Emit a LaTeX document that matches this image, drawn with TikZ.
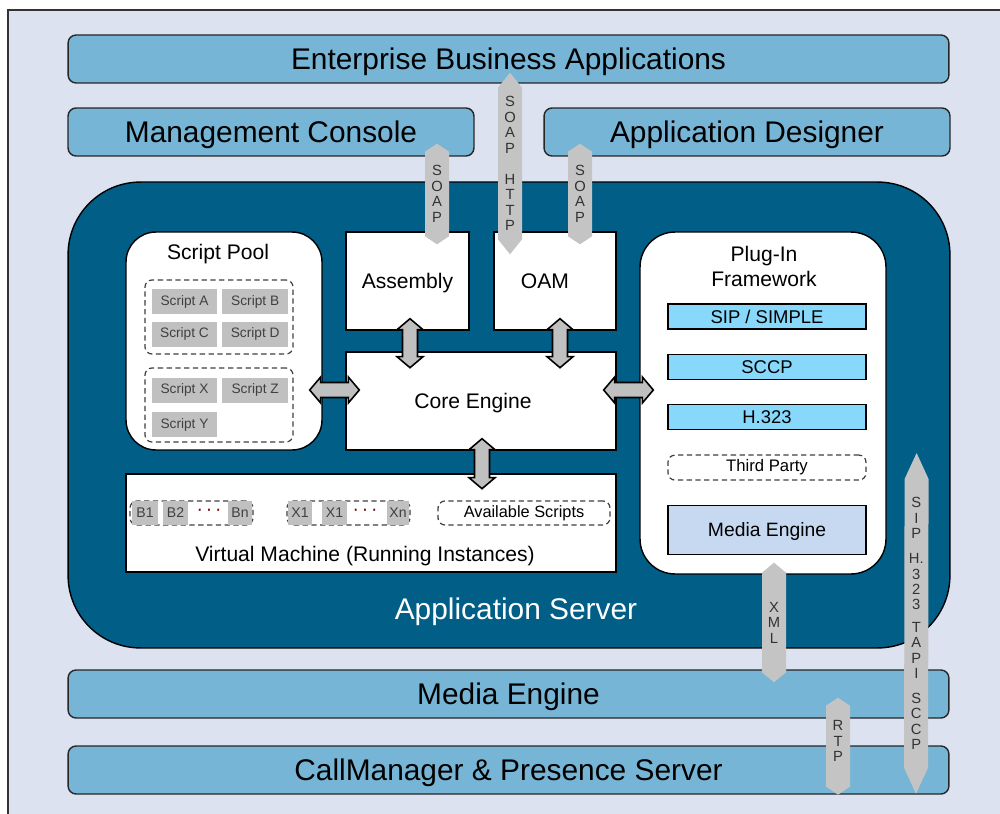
\documentclass[tikz,border=0pt]{standalone}
\usepackage{fontspec}
\setmainfont{Liberation Sans}
\usetikzlibrary{calc, positioning}

\definecolor{framebg}{RGB}{220,226,240}
\definecolor{bandblue}{RGB}{118,181,213}
\definecolor{serverblue}{RGB}{0,94,135}
\definecolor{plugcyan}{RGB}{135,216,250}
\definecolor{mediablue}{RGB}{198,217,241}
\definecolor{scriptgray}{RGB}{192,192,192}
\definecolor{linkgray}{RGB}{192,192,192}
\definecolor{protogray}{RGB}{196,196,196}

% #1 style, #2 from, #3 to, #4 head length, #5 head half width, #6 shaft half width
\newcommand{\fatarrow}[6]{%
	\path[#1] (#2)
		-- ($(#2)!#4!(#3)!#5!90:(#3)$) -- ($(#2)!#4!(#3)!#6!90:(#3)$)
		-- ($(#3)!#4!(#2)!#6!-90:(#2)$) -- ($(#3)!#4!(#2)!#5!-90:(#2)$)
		-- (#3)
		-- ($(#3)!#4!(#2)!#5!90:(#2)$) -- ($(#3)!#4!(#2)!#6!90:(#2)$)
		-- ($(#2)!#4!(#3)!#6!-90:(#3)$) -- ($(#2)!#4!(#3)!#5!-90:(#3)$)
		-- cycle;}
\newcommand{\vmdots}{\textperiodcentered\hspace{1.6pt}\textperiodcentered\hspace{1.6pt}\textperiodcentered}

\begin{document}
\begin{tikzpicture}[x=0.02cm, y=-0.02cm,
	band/.style={draw=black!85, line width=0.8pt, fill=bandblue, rounded corners=0.16cm, minimum height=0.96cm, inner sep=0pt, text height=12.2pt, text depth=0pt, font=\fontsize{17}{20}\selectfont},
	block/.style={draw=black, line width=0.8pt, fill=white, inner sep=0pt, text height=8.6pt, text depth=0pt, font=\fontsize{12}{14}\selectfont},
	pool/.style={block, rounded corners=0.6cm},
	plugrow/.style={draw=black, line width=0.8pt, fill=plugcyan, minimum width=3.96cm, minimum height=0.5cm, inner sep=0pt, text height=7.5pt, text depth=0pt, font=\fontsize{10.5}{12}\selectfont},
	dashbox/.style={draw=black!75, line width=0.7pt, dash pattern=on 3pt off 2pt, rounded corners=0.14cm, inner sep=0pt},
	scriptbox/.style={fill=scriptgray, minimum width=1.32cm, minimum height=0.5cm, inner sep=0pt, text=black!75, font=\fontsize{7.8}{9}\selectfont},
	instbox/.style={fill=scriptgray, minimum height=0.48cm, inner sep=0pt, text=black!75, font=\fontsize{8}{9}\selectfont},
	dots/.style={inner sep=0pt, text=red!45!black, font=\fontsize{11}{12}\selectfont},
	link/.style={fill=linkgray, draw=black, line width=0.9pt, line join=miter},
	proto/.style={fill=protogray},
	protolabel/.style={align=center, inner sep=0pt, text=black!80, font=\fontsize{8.4}{8.8}\selectfont}]
	\useasboundingbox (0,0) rectangle (1000,814);
	\fill[framebg] (8,10) rectangle (1000,814);
	\draw[line width=0.8pt, black!80] (1000,10) -- (8,10) -- (8,814);

	\node[band, minimum width=17.62cm] (enterprise) at (508.5,59) {Enterprise Business Applications};
	\node[band, minimum width=8.12cm] (mgmt_console) at (271,132) {Management Console};
	\node[band, minimum width=8.12cm] (app_designer) at (747,132) {Application Designer};

	\node[draw=black, line width=0.8pt, fill=serverblue, rounded corners=1.45cm, minimum width=17.64cm, minimum height=9.32cm] (app_server) at (509,415) {};
	\node[text=white, text height=12.2pt, text depth=0pt, inner sep=0pt, font=\fontsize{17}{20}\selectfont] (server_label) at (516,609) {Application Server};

	\node[pool, minimum width=3.92cm, minimum height=4.36cm] (script_pool) at (224,341) {};
	\node[font=\fontsize{12}{14}\selectfont] (pool_title) at (218,254.5) {Script Pool};
	\node[dashbox, minimum width=2.96cm, minimum height=1.48cm] (pool_group_a) at (219,317) {};
	\node[scriptbox] (script_a) at (184.5,301.5) {Script A};
	\node[scriptbox, right=0.08cm of script_a] (script_b) {Script B};
	\node[scriptbox, below=0.14cm of script_a] (script_c) {Script C};
	\node[scriptbox, right=0.08cm of script_c] (script_d) {Script D};
	\node[dashbox, minimum width=2.96cm, minimum height=1.48cm] (pool_group_b) at (219,405) {};
	\node[scriptbox] (script_x) at (184.5,390) {Script X};
	\node[scriptbox, right=0.08cm of script_x] (script_z) {Script Z};
	\node[scriptbox, below=0.18cm of script_x] (script_y) {Script Y};

	\node[block, minimum width=2.46cm, minimum height=1.96cm] (assembly) at (407.5,281) {Assembly};
	\node[block, minimum width=2.44cm, minimum height=1.96cm] (oam) at (555,281) {\hspace*{-0.4cm}OAM};
	\node[block, minimum width=5.4cm, minimum height=1.96cm] (core_engine) at (481,401) {\hspace*{-0.32cm}Core Engine};

	\node[pool, rounded corners=0.7cm, minimum width=4.92cm, minimum height=6.84cm] (plugin_fw) at (763,403) {};
	\node[align=center, font=\fontsize{12}{14.2}\selectfont] (plugin_title) at (764,266) {Plug-In\\Framework};
	\node[plugrow] (sip_simple) at (767,316.5) {SIP / SIMPLE};
	\node[plugrow, below=0.48cm of sip_simple] (sccp) {SCCP};
	\node[plugrow, below=0.48cm of sccp] (h323) {H.323};
	\node[dashbox, minimum width=3.96cm, minimum height=0.5cm, font=\fontsize{9.5}{11}\selectfont, below=0.48cm of h323] (third_party) {Third Party};
	\node[plugrow, fill=mediablue, minimum height=0.98cm, text height=7.9pt, font=\fontsize{11}{13}\selectfont, below=0.48cm of third_party] (media_plugin) {Media Engine};

	\node[block, minimum width=9.8cm, minimum height=1.96cm] (virtual_machine) at (371,523) {};
	\node[font=\fontsize{12}{14}\selectfont] (vm_label) at (365,556) {Virtual Machine (Running Instances)};
	\node[dashbox, minimum width=2.46cm, minimum height=0.48cm] (b_group) at (191.5,513) {};
	\node[instbox, minimum width=0.54cm] (b_1) at (145,513) {B1};
	\node[instbox, minimum width=0.5cm] (b_2) at (175.5,513) {B2};
	\node[dots] (b_dots) at (209,512) {\vmdots};
	\node[instbox, minimum width=0.48cm] (b_n) at (240,513) {Bn};
	\node[dashbox, minimum width=2.46cm, minimum height=0.48cm] (x_group) at (348.5,513) {};
	\node[instbox, minimum width=0.48cm] (x_1) at (300,513) {X1};
	\node[instbox, minimum width=0.5cm] (x_2) at (334.5,513) {X1};
	\node[dots] (x_dots) at (365,512) {\vmdots};
	\node[instbox, minimum width=0.44cm] (x_n) at (398,513) {Xn};
	\node[dashbox, minimum width=3.44cm, minimum height=0.48cm, font=\fontsize{9.3}{11}\selectfont] (avail_scripts) at (524,513) {Available Scripts};

	\node[band, minimum width=17.62cm] (media_engine) at (508.5,694) {Media Engine};
	\node[band, minimum width=17.62cm] (call_manager) at (508.5,770) {CallManager \& Presence Server};

	\coordinate (asm_core_a) at ($(assembly.south)+(2.5,-12)$);
	\coordinate (asm_core_b) at ($(asm_core_a)+(0,49)$);
	\coordinate (oam_core_a) at ($(oam.south)+(5,-12)$);
	\coordinate (oam_core_b) at ($(oam_core_a)+(0,49)$);
	\coordinate (pool_core_a) at ($(script_pool.east)+(-13,49)$);
	\coordinate (pool_core_b) at ($(core_engine.west)+(14,-11)$);
	\coordinate (core_plug_a) at ($(core_engine.east)+(-13,-11)$);
	\coordinate (core_plug_b) at ($(plugin_fw.west)+(14,-13)$);
	\coordinate (core_vm_a) at ($(core_engine.south)+(1,-12)$);
	\coordinate (core_vm_b) at ($(core_vm_a)+(0,50)$);
	\fatarrow{link}{asm_core_a}{asm_core_b}{0.22cm}{0.26cm}{0.15cm}
	\fatarrow{link}{oam_core_a}{oam_core_b}{0.22cm}{0.26cm}{0.15cm}
	\fatarrow{link}{pool_core_a}{pool_core_b}{0.22cm}{0.26cm}{0.15cm}
	\fatarrow{link}{core_plug_a}{core_plug_b}{0.22cm}{0.26cm}{0.15cm}
	\fatarrow{link}{core_vm_a}{core_vm_b}{0.22cm}{0.26cm}{0.15cm}

	\coordinate (soap_mc_a) at ($(mgmt_console.south)+(166,-13)$);
	\coordinate (soap_mc_b) at ($(assembly.north)+(29.5,13)$);
	\coordinate (soap_http_a) at ($(enterprise.south)+(1.5,-11)$);
	\coordinate (soap_http_b) at ($(oam.north)+(-45,23)$);
	\coordinate (soap_ad_a) at ($(app_designer.south)+(-167,-13)$);
	\coordinate (soap_ad_b) at ($(oam.north)+(25,13)$);
	\coordinate (xml_a) at ($(plugin_fw.south)+(11,-12)$);
	\coordinate (xml_b) at ($(media_engine.north)+(265.5,13)$);
	\coordinate (rtp_a) at ($(media_engine.south)+(329.5,-21)$);
	\coordinate (rtp_b) at ($(call_manager.south)+(329.5,0)$);
	\coordinate (sig_a) at ($(app_server.east)+(-34,38)$);
	\coordinate (sig_b) at ($(call_manager.south)+(407.5,-1)$);
	\fatarrow{proto}{soap_mc_a}{soap_mc_b}{0.16cm}{0.24cm}{0.24cm}
	\fatarrow{proto}{soap_http_a}{soap_http_b}{0.3cm}{0.24cm}{0.24cm}
	\fatarrow{proto}{soap_ad_a}{soap_ad_b}{0.16cm}{0.24cm}{0.24cm}
	\fatarrow{proto}{xml_a}{xml_b}{0.2cm}{0.24cm}{0.24cm}
	\fatarrow{proto}{rtp_a}{rtp_b}{0.16cm}{0.24cm}{0.24cm}
	\fatarrow{proto}{sig_a}{sig_b}{0.52cm}{0.24cm}{0.24cm}
	\node[protolabel] (soap_mc_label) at ($(soap_mc_a)!0.5!(soap_mc_b)$) {S\\O\\A\\P};
	\node[protolabel] (soap_http_label) at ($(soap_http_a)!0.5!(soap_http_b)$) {S\\O\\A\\P\\[9pt]H\\T\\T\\P};
	\node[protolabel] (soap_ad_label) at ($(soap_ad_a)!0.5!(soap_ad_b)$) {S\\O\\A\\P};
	\node[protolabel] (xml_label) at ($(xml_a)!0.5!(xml_b)$) {X\\M\\L};
	\node[protolabel] (rtp_label) at ($(rtp_a)!0.45!(rtp_b)$) {R\\T\\P};
	\node[protolabel] (sig_label) at ($(sig_a)!0.5!(sig_b)$) {S\\I\\P\\[5.5pt]H.\\3\\2\\3\\[4pt]T\\A\\P\\I\\[5pt]S\\C\\C\\P};
\end{tikzpicture}
\end{document}
